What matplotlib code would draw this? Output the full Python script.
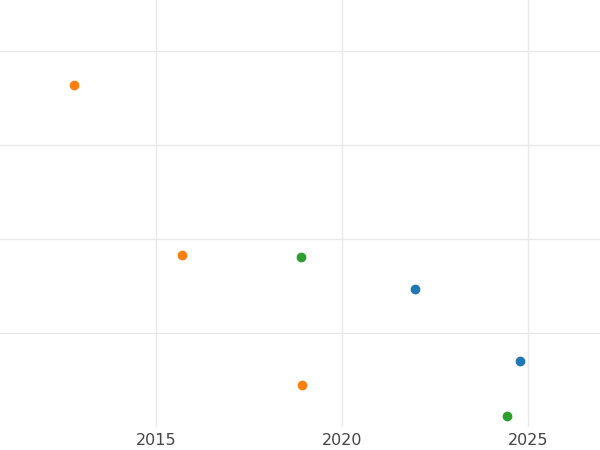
import matplotlib
matplotlib.use("Agg")
import matplotlib.pyplot as plt

blue_x = [2021.96, 2024.78]
blue_y = [1.47, 0.70]
orange_x = [2012.80, 2015.70, 2018.93]
orange_y = [3.64, 1.83, 0.45]
green_x = [2018.90, 2024.44]
green_y = [1.81, 0.12]
xticks = [2015, 2020, 2025]

fig = plt.figure(figsize=(6, 4.5), dpi=100)
ax = fig.add_axes([0, 23/450, 1, 427/450])
ax.set_xlim(2010.81, 2026.94)
ax.set_ylim(0, 4.54)
for s in ax.spines.values():
    s.set_visible(False)
ax.set_xticks(xticks)
ax.set_xticklabels([str(t) for t in xticks])
ax.set_yticks([1, 2, 3, 4])
ax.set_yticklabels([])
ax.tick_params(length=0, labelsize=11.5, labelcolor="#444444", pad=4)
ax.grid(True, color="#e8e8e8", linewidth=1)
ax.set_axisbelow(True)
ax.scatter(blue_x, blue_y, color="#1f77b4", s=36, zorder=3)
ax.scatter(orange_x, orange_y, color="#ff7f0e", s=36, zorder=3)
ax.scatter(green_x, green_y, color="#2ca02c", s=36, zorder=3)
fig.savefig("out.png")
